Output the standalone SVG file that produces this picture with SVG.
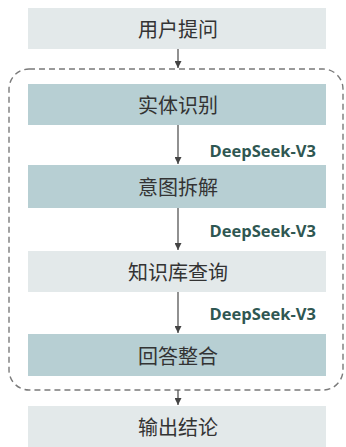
<svg xmlns="http://www.w3.org/2000/svg" width="346" height="447" viewBox="0 0 346 447">
<defs>
<marker id="ah" viewBox="0 0 10 10" refX="10" refY="5" markerWidth="7" markerHeight="7" markerUnits="userSpaceOnUse" orient="auto">
<path d="M0,0 L10,5 L0,10 z" fill="#444"/>
</marker>
<style>
.teal{fill:#b7cfd3}
.gray{fill:#e3e9ea}
.t{font-family:"Noto Sans CJK SC","Noto Sans",sans-serif;font-size:20px;fill:#333;text-anchor:middle;dominant-baseline:central}
.lbl{font-family:"Open Sans","DejaVu Sans",sans-serif;font-weight:bold;font-size:16.5px;fill:#2f5752;text-anchor:end;dominant-baseline:central}
.c{stroke:#555;stroke-width:1.3;fill:none;marker-end:url(#ah)}
</style>
</defs>
<rect width="346" height="447" fill="#ffffff"/>
<rect x="9" y="69" width="334" height="321" rx="20" ry="20" fill="none" stroke="#7a7a7a" stroke-width="1.4" stroke-dasharray="6 4"/>
<g id="n1"><rect class="gray" x="28" y="8" width="298" height="41"/><text class="t" x="178" y="28.5">用户提问</text></g>
<g id="n2"><rect class="teal" x="28" y="84" width="298" height="41"/><text class="t" x="178" y="104.5">实体识别</text></g>
<g id="n3"><rect class="teal" x="28" y="165" width="298" height="43"/><text class="t" x="178" y="186.5">意图拆解</text></g>
<g id="n4"><rect class="gray" x="28" y="251" width="298" height="41"/><text class="t" x="178" y="271.5">知识库查询</text></g>
<g id="n5"><rect class="teal" x="28" y="334" width="298" height="42"/><text class="t" x="178" y="355">回答整合</text></g>
<g id="n6"><rect class="gray" x="28" y="406" width="298" height="41"/><text class="t" x="178" y="426.5">输出结论</text></g>
<g id="connectors">
<line class="c" x1="178" y1="49" x2="178" y2="68"/>
<line class="c" x1="178" y1="125" x2="178" y2="164"/>
<line class="c" x1="178" y1="208" x2="178" y2="250"/>
<line class="c" x1="178" y1="292" x2="178" y2="333"/>
<line class="c" x1="178" y1="390" x2="178" y2="405"/>
<text class="lbl" x="316" y="150">DeepSeek-V3</text>
<text class="lbl" x="316" y="230">DeepSeek-V3</text>
<text class="lbl" x="316" y="313">DeepSeek-V3</text>
</g>
</svg>
